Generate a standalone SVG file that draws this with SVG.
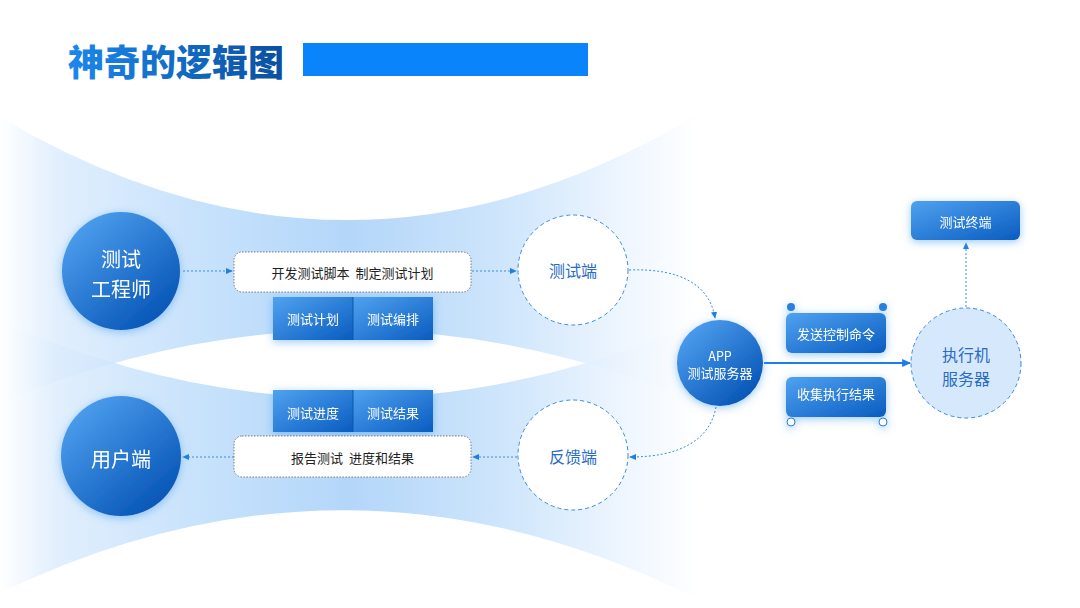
<svg xmlns="http://www.w3.org/2000/svg" width="1080" height="608" viewBox="0 0 1080 608">
<defs>
<style>
.cjk{font-family:"Noto Sans CJK SC","Noto Sans",sans-serif;}
.wt{fill:#ffffff;text-anchor:middle;dominant-baseline:central;}
.bt{fill:#222222;text-anchor:middle;dominant-baseline:central;font-size:13px;white-space:pre;}
.lt{fill:#2a6cc4;text-anchor:middle;dominant-baseline:central;font-size:16px;}
.dot{fill:none;stroke:#3b8ae2;stroke-width:1;stroke-dasharray:2 2;}
.dash{stroke:#3b8ae2;stroke-width:1;stroke-dasharray:4 3;}
.wbox{fill:#ffffff;stroke:#6f6f6f;stroke-width:0.9;stroke-dasharray:1.5 1.5;}
</style>
<linearGradient id="titleG" x1="0" y1="0" x2="1" y2="0">
<stop offset="0" stop-color="#1b88ec"/>
<stop offset="1" stop-color="#0a4f9f"/>
</linearGradient>
<linearGradient id="circG" x1="0.15" y1="0.1" x2="0.85" y2="0.9">
<stop offset="0" stop-color="#4c9ded"/>
<stop offset="1" stop-color="#0655b6"/>
</linearGradient>
<linearGradient id="boxG" x1="0" y1="0" x2="1" y2="1">
<stop offset="0" stop-color="#4fa2f0"/>
<stop offset="1" stop-color="#0a5cc0"/>
</linearGradient>
<linearGradient id="bandG" x1="0" y1="0" x2="700" y2="0" gradientUnits="userSpaceOnUse">
<stop offset="0" stop-color="#ffffff"/>
<stop offset="0.08" stop-color="#dcecfd"/>
<stop offset="0.3" stop-color="#bcdcfb"/>
<stop offset="0.5" stop-color="#a6cff8"/>
<stop offset="0.72" stop-color="#c6e1fb"/>
<stop offset="0.88" stop-color="#e9f3fe"/>
<stop offset="1" stop-color="#ffffff"/>
</linearGradient>
<filter id="glow" x="-40%" y="-40%" width="180%" height="180%">
<feDropShadow dx="0" dy="2" stdDeviation="4" flood-color="#4a9ef0" flood-opacity="0.55"/>
</filter>
<marker id="ah" viewBox="0 0 8 8" refX="7" refY="4" markerWidth="7" markerHeight="7" orient="auto" markerUnits="userSpaceOnUse">
<path d="M0,0.5 L8,4 L0,7.5 Z" fill="#1f7fe0"/>
</marker>
<marker id="ahb" viewBox="0 0 8 8" refX="7" refY="4" markerWidth="9" markerHeight="9" orient="auto" markerUnits="userSpaceOnUse">
<path d="M0,0.5 L8,4 L0,7.5 Z" fill="#1a7fe8"/>
</marker>
</defs>

<rect x="0" y="0" width="1080" height="608" fill="#ffffff"/>

<!-- background bands -->
<g id="background">
<path d="M0,117 Q350,325 700,113 L700,403 Q350,257 0,403 Z" fill="url(#bandG)" opacity="0.85"/>
<path d="M0,321 Q350,475 700,321 L700,600 Q350,424 0,593 Z" fill="url(#bandG)" opacity="0.85"/>
</g>

<!-- title -->
<g id="title">
<text x="68" y="76" class="cjk" font-size="36" font-weight="900" fill="url(#titleG)">神奇的逻辑图</text>
<rect x="303" y="43" width="285" height="33" fill="#0a84fb"/>
</g>

<!-- connectors -->
<g id="connectors">
<line x1="183" y1="271" x2="232" y2="271" class="dot" marker-end="url(#ah)"/>
<line x1="472" y1="271" x2="516" y2="271" class="dot" marker-end="url(#ah)"/>
<path d="M629,270 C680,268 710,285 715,318" class="dot" marker-end="url(#ah)"/>
<path d="M716,407 C710,440 680,457 630,457" class="dot" marker-end="url(#ah)"/>
<line x1="517" y1="457" x2="473" y2="457" class="dot" marker-end="url(#ah)"/>
<line x1="234" y1="457" x2="183" y2="457" class="dot" marker-end="url(#ah)"/>
<line x1="764" y1="363" x2="910" y2="363" stroke="#1a7fe8" stroke-width="2" marker-end="url(#ahb)"/>
<line x1="966" y1="307" x2="966" y2="243" class="dot" marker-end="url(#ah)"/>
</g>

<!-- nodes -->
<g id="node-engineer" filter="url(#glow)">
<circle cx="121" cy="271" r="59" fill="url(#circG)"/>
<text x="121" y="258" class="cjk wt" font-size="20">测试</text>
<text x="121" y="288" class="cjk wt" font-size="20">工程师</text>
</g>

<g id="node-user" filter="url(#glow)">
<circle cx="121" cy="456" r="60" fill="url(#circG)"/>
<text x="121" y="458" class="cjk wt" font-size="20">用户端</text>
</g>

<g id="node-dev">
<rect x="234" y="252" width="237" height="40" rx="8" class="wbox"/>
<text x="352.5" y="272" class="cjk bt" xml:space="preserve">开发测试脚本  制定测试计划</text>
</g>

<g id="node-plan-tabs" filter="url(#glow)">
<rect x="273" y="297" width="80" height="43" fill="url(#boxG)"/>
<rect x="353" y="297" width="80" height="43" fill="url(#boxG)"/>
<line x1="353" y1="297" x2="353" y2="340" stroke="#0b57b3" stroke-width="1"/>
<text x="313" y="318" class="cjk wt" font-size="13">测试计划</text>
<text x="393" y="318" class="cjk wt" font-size="13">测试编排</text>
</g>

<g id="node-progress-tabs" filter="url(#glow)">
<rect x="273" y="390" width="80" height="42" fill="url(#boxG)"/>
<rect x="353" y="390" width="80" height="42" fill="url(#boxG)"/>
<line x1="353" y1="390" x2="353" y2="432" stroke="#0b57b3" stroke-width="1"/>
<text x="313" y="412" class="cjk wt" font-size="13">测试进度</text>
<text x="393" y="412" class="cjk wt" font-size="13">测试结果</text>
</g>

<g id="node-report">
<rect x="234" y="436" width="237" height="41" rx="8" class="wbox"/>
<text x="352.5" y="457" class="cjk bt" xml:space="preserve">报告测试  进度和结果</text>
</g>

<g id="node-test-end">
<circle cx="573" cy="270" r="55" fill="#ffffff" class="dash"/>
<text x="573" y="270" class="cjk lt">测试端</text>
</g>

<g id="node-feedback">
<circle cx="573" cy="455" r="55" fill="#ffffff" class="dash"/>
<text x="573" y="456" class="cjk lt">反馈端</text>
</g>

<g id="node-app" filter="url(#glow)">
<circle cx="720" cy="363" r="43" fill="url(#circG)"/>
<text x="720" y="355" class="cjk wt" font-size="12.5">APP</text>
<text x="720" y="372" class="cjk wt" font-size="13">测试服务器</text>
</g>

<g id="node-send" filter="url(#glow)">
<circle cx="791" cy="307" r="4" fill="#2a7fdc"/>
<circle cx="883" cy="307" r="4" fill="#2a7fdc"/>
<rect x="786" y="313" width="100" height="40" rx="6" fill="url(#boxG)"/>
<text x="836" y="333" class="cjk wt" font-size="13">发送控制命令</text>
</g>

<g id="node-collect" filter="url(#glow)">
<rect x="786" y="377" width="100" height="40" rx="6" fill="url(#boxG)"/>
<circle cx="791" cy="422" r="4" fill="#ffffff" stroke="#2a7fdc" stroke-width="1"/>
<circle cx="883" cy="422" r="4" fill="#ffffff" stroke="#2a7fdc" stroke-width="1"/>
<text x="836" y="393" class="cjk wt" font-size="13">收集执行结果</text>
</g>

<g id="node-executor">
<circle cx="966" cy="363" r="55" fill="#d6e9fc" class="dash"/>
<text x="966" y="354" class="cjk lt" fill="#2a5fa8">执行机</text>
<text x="966" y="378" class="cjk lt" fill="#2a5fa8">服务器</text>
</g>

<g id="node-terminal" filter="url(#glow)">
<rect x="911" y="201" width="109" height="39" rx="6" fill="url(#boxG)"/>
<text x="965.5" y="221" class="cjk wt" font-size="13">测试终端</text>
</g>
</svg>
